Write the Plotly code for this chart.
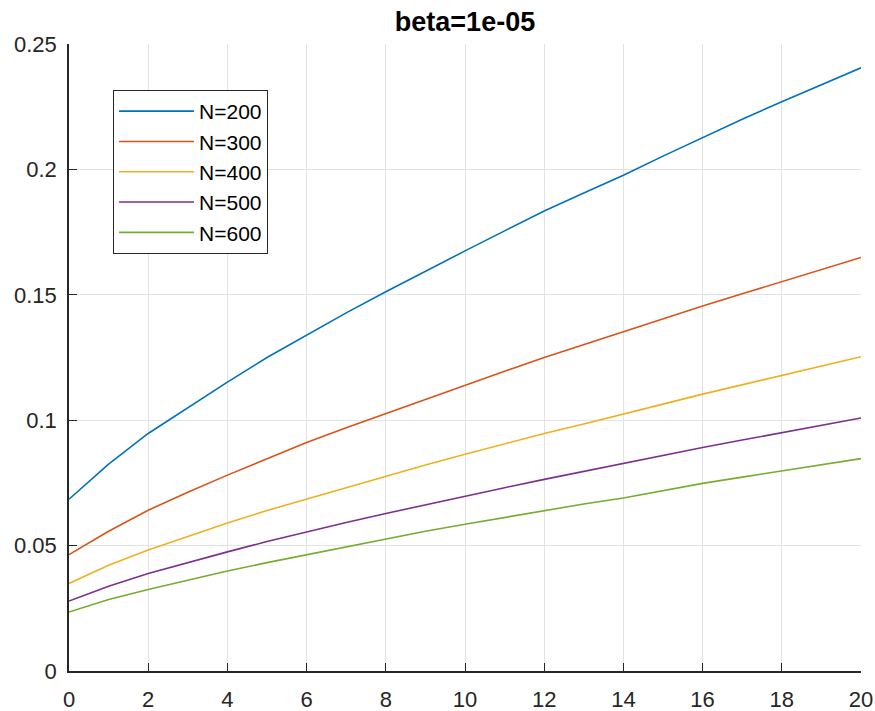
import plotly.graph_objects as go

x_vals = list(range(0, 21))

n200 = [0.0685, 0.0825, 0.0947, 0.1050, 0.1152, 0.1250, 0.1340, 0.1428, 0.1512, 0.1595, 0.1675,
        0.1755, 0.1834, 0.1906, 0.1977, 0.2053, 0.2128, 0.2200, 0.2270, 0.2338, 0.2405]
n300 = [0.0464, 0.0557, 0.0641, 0.0713, 0.0781, 0.0847, 0.0911, 0.0970, 0.1027, 0.1084, 0.1140,
        0.1195, 0.1250, 0.1302, 0.1352, 0.1404, 0.1455, 0.1504, 0.1552, 0.1601, 0.1649]
n400 = [0.0349, 0.0422, 0.0482, 0.0537, 0.0590, 0.0640, 0.0686, 0.0732, 0.0778, 0.0821, 0.0864,
        0.0906, 0.0947, 0.0985, 0.1023, 0.1064, 0.1104, 0.1141, 0.1178, 0.1216, 0.1253]
n500 = [0.0279, 0.0338, 0.0389, 0.0433, 0.0475, 0.0516, 0.0555, 0.0592, 0.0628, 0.0663, 0.0697,
        0.0731, 0.0764, 0.0796, 0.0827, 0.0859, 0.0891, 0.0921, 0.0951, 0.0980, 0.1009]
n600 = [0.0235, 0.0285, 0.0325, 0.0363, 0.0399, 0.0432, 0.0464, 0.0496, 0.0528, 0.0557, 0.0585,
        0.0613, 0.0641, 0.0666, 0.0690, 0.0719, 0.0748, 0.0773, 0.0798, 0.0823, 0.0847]

series = [("N=200", n200), ("N=300", n300), ("N=400", n400), ("N=500", n500), ("N=600", n600)]
colors = ["#0072BD", "#D95319", "#EDB120", "#7E2F8E", "#77AC30"]

x_ticks = list(range(0, 21, 2))
y_ticks = [0, 0.05, 0.1, 0.15, 0.2, 0.25]
y_tick_text = ["0", "0.05", "0.1", "0.15", "0.2", "0.25"]

fig = go.Figure()
for (name, ys), c in zip(series, colors):
    fig.add_trace(go.Scatter(x=x_vals, y=ys, mode="lines", name=name,
                             line=dict(color=c, width=1.6)))

axis_color = "#262626"
font = "Liberation Sans, Arial, sans-serif"

fig.update_layout(
    width=875, height=711,
    margin=dict(l=69, r=14, t=44, b=40),
    paper_bgcolor="white", plot_bgcolor="white",
    font=dict(family=font, size=22, color=axis_color),
    title=dict(text="<b>beta=1e-05</b>", x=(69 + 861) / 2 / 875, xanchor="center",
               y=1 - 22 / 711, yanchor="middle", font=dict(size=27, color="black")),
    showlegend=True,
    legend=dict(x=0.0556, y=0.9266, xanchor="left", yanchor="top",
                bgcolor="white", bordercolor=axis_color, borderwidth=1,
                font=dict(size=21, color="black"), itemwidth=75,
                tracegroupgap=0),
)
fig.update_xaxes(range=[0, 20], tickvals=x_ticks, showgrid=True, gridcolor="#e3e3e3",
                 gridwidth=1, showline=True, linecolor=axis_color, linewidth=1.5,
                 ticks="inside", ticklen=8, tickcolor=axis_color, zeroline=False,
                 mirror=False, automargin=False, ticklabelstandoff=8,
                 tickfont=dict(size=22, color=axis_color))
fig.update_yaxes(range=[0, 0.25], tickvals=y_ticks, ticktext=y_tick_text, showgrid=True,
                 gridcolor="#e3e3e3", gridwidth=1, showline=True, linecolor=axis_color,
                 linewidth=1.5, ticks="inside", ticklen=8, tickcolor=axis_color,
                 zeroline=False, mirror=False, automargin=False, ticklabelstandoff=6,
                 tickfont=dict(size=22, color=axis_color))

fig.write_html("out.html")
